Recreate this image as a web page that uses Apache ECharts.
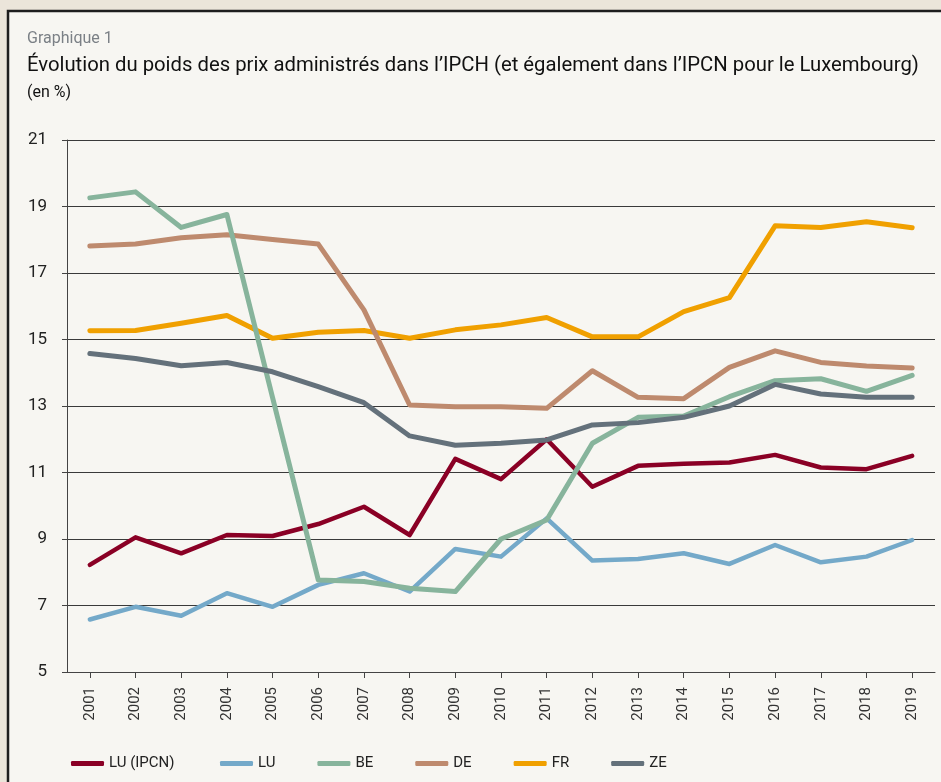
<!DOCTYPE html>
<html><head><meta charset="utf-8">
<script src="https://cdn.jsdelivr.net/npm/echarts@6/dist/echarts.min.js"></script>
<style>html,body{margin:0;padding:0;background:#ebe5da;}#c{width:941px;height:782px;}</style>
</head><body><div id="c"></div>
<script>
const years = ['2001','2002','2003','2004','2005','2006','2007','2008','2009','2010','2011','2012','2013','2014','2015','2016','2017','2018','2019'];
const luIpcn = [8.22,9.05,8.57,9.12,9.09,9.45,9.97,9.12,11.41,10.8,12.0,10.57,11.2,11.26,11.3,11.53,11.15,11.1,11.5];
const lu = [6.58,6.96,6.69,7.37,6.96,7.62,7.97,7.42,8.7,8.47,9.62,8.35,8.4,8.57,8.25,8.82,8.3,8.47,8.97];
const be = [19.26,19.44,18.37,18.76,13.25,7.77,7.72,7.52,7.42,9.0,9.57,11.88,12.66,12.7,13.28,13.76,13.82,13.44,13.92];
const de = [17.81,17.87,18.06,18.15,18.01,17.87,15.89,13.03,12.98,12.98,12.93,14.06,13.26,13.22,14.16,14.66,14.31,14.2,14.14];
const fr = [15.26,15.27,15.49,15.72,15.04,15.22,15.27,15.04,15.29,15.44,15.66,15.08,15.08,15.84,16.26,18.42,18.37,18.54,18.36];
const ze = [14.58,14.43,14.21,14.31,14.03,13.58,13.1,12.1,11.82,11.88,11.98,12.43,12.5,12.66,13.0,13.65,13.36,13.26,13.26];
const yTicks = {min:5, max:21, interval:2};

const FONT = 'Roboto';
const chart = echarts.init(document.getElementById('c'), null, {renderer:'canvas'});
function s(name, data, color, w){
  return {name, type:'line', data, symbol:'none', smooth:false,
    lineStyle:{color, width:w, cap:'round', join:'round'}, itemStyle:{color}};
}
chart.setOption({
  animation:false,
  backgroundColor:'#ebe5da',
  graphic:[{type:'rect', z:-10, shape:{x:8,y:11,width:945,height:790},
    style:{fill:'#f7f6f2', stroke:'#1e1e1e', lineWidth:2.5}}],
  title:[
    {text:'Graphique 1', left:27, top:31, padding:0, textStyle:{fontFamily:FONT, fontSize:16, fontWeight:'normal', color:'#7b8086'}},
    {text:'Évolution du poids des prix administrés dans l’IPCH (et également dans l’IPCN pour le Luxembourg)', left:27, top:56, padding:0, textStyle:{fontFamily:FONT, fontSize:20.3, fontWeight:'normal', color:'#111'}},
    {text:'(en %)', left:27, top:85, padding:0, textStyle:{fontFamily:FONT, fontSize:16, fontWeight:'normal', color:'#111'}}
  ],
  legend:[
    {data:['LU (IPCN)'], left:66, top:751, itemWidth:33, itemHeight:5, icon:'roundRect',
     textStyle:{fontFamily:FONT, fontSize:15, color:'#222'}},
    {data:['LU','BE','DE','FR','ZE'], left:215, top:751, itemWidth:33, itemHeight:5, itemGap:42, icon:'roundRect',
     textStyle:{fontFamily:FONT, fontSize:15, color:'#222'}}
  ],
  grid:{left:67, right:6, top:140, bottom:110, containLabel:false},
  xAxis:{type:'category', data:years, boundaryGap:true,
    axisLine:{show:true, lineStyle:{color:'#444', width:1}},
    axisTick:{show:true, alignWithLabel:true, length:6, lineStyle:{color:'#444'}},
    axisLabel:{rotate:90, fontFamily:FONT, fontSize:15, color:'#333', margin:15, interval:0},
    splitLine:{show:false}},
  yAxis:{type:'value', min:yTicks.min, max:yTicks.max, interval:yTicks.interval,
    axisLine:{show:true, lineStyle:{color:'#444', width:1}},
    axisTick:{show:true, length:5, lineStyle:{color:'#444'}},
    axisLabel:{fontFamily:FONT, fontSize:17, color:'#222', margin:20},
    splitLine:{show:true, lineStyle:{color:'#3a3a3a', width:1}}},
  series:[
    s('FR', fr, '#f0a000', 5),
    s('DE', de, '#be8a6e', 5),
    s('LU (IPCN)', luIpcn, '#8a0025', 4.5),
    s('LU', lu, '#74a9c9', 4.5),
    s('BE', be, '#87b49c', 5),
    s('ZE', ze, '#64717b', 5)
  ]
});
</script></body></html>
